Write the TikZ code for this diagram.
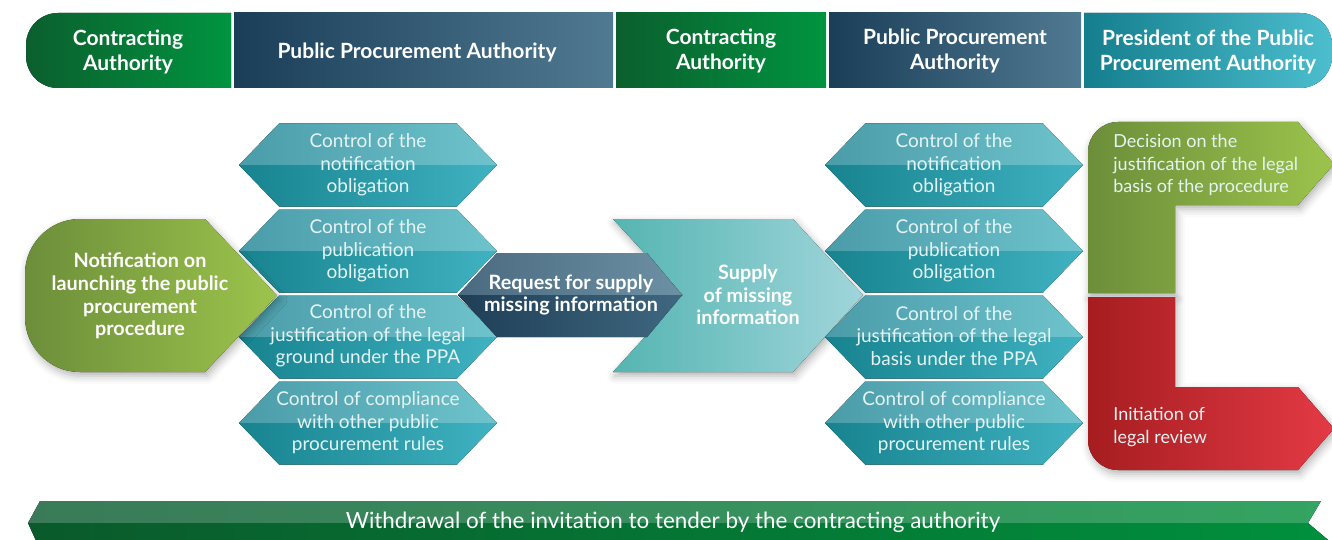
\documentclass[tikz,border=0pt]{standalone}
\usepackage{fontspec}
\setmainfont{Lato}
\newfontfamily\lightf{Lato}
\usetikzlibrary{shadows.blur}
\definecolor{hgL}{HTML}{0B5F2E}
\definecolor{hgR}{HTML}{00943F}
\definecolor{hbL}{HTML}{1B3E58}
\definecolor{hbR}{HTML}{507A92}
\definecolor{htL}{HTML}{147E8D}
\definecolor{htR}{HTML}{4CBECE}
\definecolor{hextl}{HTML}{4A9CA9}
\definecolor{hextr}{HTML}{6EC3CC}
\definecolor{hexbl}{HTML}{17838F}
\definecolor{hexbr}{HTML}{40B2C1}
\definecolor{rqtl}{HTML}{4A6A80}
\definecolor{rqtr}{HTML}{6C90A4}
\definecolor{rqbl}{HTML}{1E3E56}
\definecolor{rqbr}{HTML}{3F6880}
\definecolor{suL}{HTML}{55B5B1}
\definecolor{suR}{HTML}{A0D5DB}
\definecolor{gnL}{HTML}{6C8E3A}
\definecolor{gnR}{HTML}{9CC44C}
\definecolor{rdL}{HTML}{A61D1F}
\definecolor{rdR}{HTML}{E33A45}
\definecolor{rbtL}{HTML}{3A7A58}
\definecolor{rbtR}{HTML}{34A462}
\definecolor{rbbL}{HTML}{0A5A2B}
\definecolor{rbbR}{HTML}{00903D}
\definecolor{hexfg}{HTML}{E6F3F4}
\newcommand\tealhex[2]{%
  \begin{scope}[shift={(#1,#2)}]
    \fill[left color=hextl, right color=hextr] (-129,0) -- (-89,-41.5) -- (89,-41.5) -- (129,0) -- cycle;
    \fill[left color=hexbl, right color=hexbr] (-129,0) -- (-89,41.5) -- (89,41.5) -- (129,0) -- cycle;
  \end{scope}}
\tikzset{
  hdr/.style={text=white, font=\bfseries\fontsize{10.5}{12.5}\selectfont, align=center, inner sep=0pt},
  hextxt/.style={text=hexfg, font=\lightf\fontsize{9.5}{11.25}\selectfont, align=center, inner sep=0pt},
  boldtxt/.style={text=white, font=\bfseries\fontsize{9.9}{11.3}\selectfont, align=center, inner sep=0pt},
  ltxt/.style={text=hexfg, font=\lightf\fontsize{9}{11.25}\selectfont, align=left, inner sep=0pt, anchor=west},
  shad/.style={blur shadow={shadow xshift=1pt, shadow yshift=-2pt, shadow blur radius=4pt, shadow opacity=30}}
}
\begin{document}
\begin{tikzpicture}[x=0.5pt,y=-0.5pt]
\useasboundingbox (0,0) rectangle (1332,540);
% ---------- header ----------
\fill[left color=hgL, right color=hgR] (231,13) -- (58,13) arc[start angle=270,end angle=180,radius=32] -- (26,56) arc[start angle=180,end angle=90,radius=32] -- (231,88) -- cycle;
\fill[left color=hbL, right color=hbR] (234,13) rectangle (613,88);
\fill[left color=hgL, right color=hgR] (616,13) rectangle (826,88);
\fill[left color=hbL, right color=hbR] (829,13) rectangle (1081,88);
\fill[left color=htL, right color=htR] (1084,13) -- (1300,13) arc[start angle=270,end angle=360,radius=32] -- (1332,56) arc[start angle=0,end angle=90,radius=32] -- (1084,88) -- cycle;
\node[hdr] (hCA1) at (128,52) {Contracting\\Authority};
\node[hdr] (hPPA1) at (417,52) {Public Procurement Authority};
\node[hdr] (hCA2) at (721,51) {Contracting\\Authority};
\node[hdr] (hPPA2) at (955,51) {Public Procurement\\Authority};
\node[hdr] (hPres) at (1208,52) {President of the Public\\Procurement Authority};
% ---------- left hexes ----------
\tealhex{368}{165}
\tealhex{368}{251}
\tealhex{368}{337}
\tealhex{368}{423}
\node[hextxt] (l1) at (368,165) {Control of the\\notification\\obligation};
\node[hextxt] (l2) at (368,251) {Control of the\\publication\\obligation};
\node[hextxt] (l3) at (368,336) {Control of the\\justification of the legal\\ground under the PPA};
\node[hextxt] (l4) at (368,423) {Control of compliance\\with other public\\procurement rules};
% ---------- notification ----------
\fill[shad, left color=gnL, right color=gnR] (205,219) -- (80,219) arc[start angle=270,end angle=180,radius=55] -- (25,317) arc[start angle=180,end angle=90,radius=55] -- (205,372) -- (277,295.5) -- cycle;
\node[boldtxt] (notif) at (140,296) {Notification on\\launching the public\\procurement\\procedure};
% ---------- supply ----------
\fill[shad, left color=suL, right color=suR] (613,219) -- (793,219) -- (863,295) -- (793,372) -- (613,372) -- (683,295) -- cycle;
\node[boldtxt] (supply) at (748,295) {Supply\\of missing\\information};
% ---------- request ----------
\fill[left color=rqtl, right color=rqtr] (458,295) -- (497,253) -- (647,253) -- (682,295) -- cycle;
\fill[left color=rqbl, right color=rqbr] (458,295) -- (497,337) -- (647,337) -- (682,295) -- cycle;
\node[boldtxt] (request) at (571,295) {Request for supply\\missing information};
% ---------- right hexes ----------
\tealhex{954}{165}
\tealhex{954}{251}
\tealhex{954}{337}
\tealhex{954}{423}
\node[hextxt] (r1) at (954,165) {Control of the\\notification\\obligation};
\node[hextxt] (r2) at (954,251) {Control of the\\publication\\obligation};
\node[hextxt] (r3) at (954,336) {Control of the\\justification of the legal\\basis under the PPA};
\node[hextxt] (r4) at (954,423) {Control of compliance\\with other public\\procurement rules};
% ---------- right L shapes ----------
\fill[shad, left color=gnL, right color=gnR] (1088,293) -- (1088,152) arc[start angle=180,end angle=270,radius=30] -- (1298,122) -- (1334,164) -- (1298,205) -- (1175,205) -- (1175,293) -- cycle;
\fill[shad, left color=rdL, right color=rdR] (1088,297) -- (1175,297) -- (1175,387) -- (1298,387) -- (1334,428.5) -- (1298,470) -- (1118,470) arc[start angle=90,end angle=180,radius=30] -- cycle;
\node[ltxt] (decision) at (1113,165) {Decision on the\\justification of the legal\\basis of the procedure};
\node[ltxt] (review) at (1113,427) {Initiation of\\legal review};
% ---------- bottom ribbon ----------
\fill[left color=rbtL, right color=rbtR] (40,501) -- (1321,501) -- (1308,523) -- (28,523) -- cycle;
\fill[left color=rbbL, right color=rbbR] (28,523) -- (1308,523) -- (1334,545) -- (38,545) -- cycle;
\node[hextxt, font=\lightf\fontsize{11.2}{13}\selectfont, text=white] (withdraw) at (673,522) {Withdrawal of the invitation to tender by the contracting authority};
\end{tikzpicture}
\end{document}
